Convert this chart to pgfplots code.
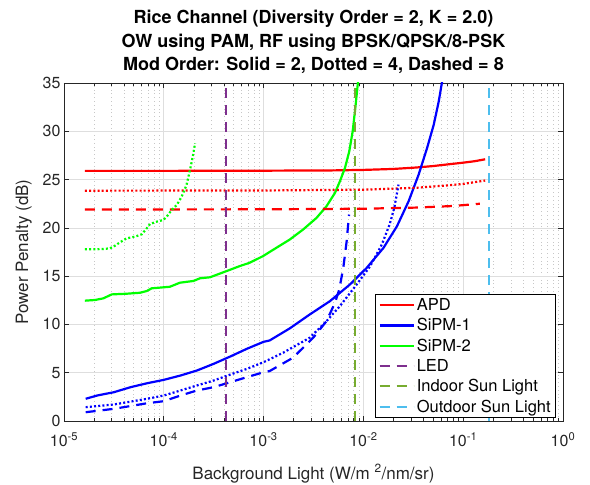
\documentclass[border=0pt]{standalone}
\usepackage{fontspec}
\setmainfont{TeX Gyre Heros}
\usepackage{pgfplots}
\pgfplotsset{compat=1.18}
\definecolor{ledc}{rgb}{0.494,0.184,0.556}
\definecolor{indc}{rgb}{0.466,0.674,0.188}
\definecolor{outc}{rgb}{0.301,0.745,0.933}
\definecolor{axc}{rgb}{0.15,0.15,0.15}
\newcommand\tickfont{\fontsize{16bp}{19bp}\selectfont}
\begin{document}
\begin{tikzpicture}
\path[use as bounding box] (-64bp,-64bp) rectangle (526bp,421bp);
\begin{axis}[
  scale only axis, width=499bp, height=338bp,
  at={(0,0)}, anchor=south west,
  xmode=log, xmin=1e-5, xmax=1, ymin=0, ymax=35,
  xtick={1e-5,1e-4,1e-3,1e-2,1e-1,1},
  xticklabels={10\textsuperscript{-5},10\textsuperscript{-4},10\textsuperscript{-3},10\textsuperscript{-2},10\textsuperscript{-1},10\textsuperscript{0}},
  minor xtick={2e-5,3e-5,4e-5,5e-5,6e-5,7e-5,8e-5,9e-5,2e-4,3e-4,4e-4,5e-4,6e-4,7e-4,8e-4,9e-4,2e-3,3e-3,4e-3,5e-3,6e-3,7e-3,8e-3,9e-3,2e-2,3e-2,4e-2,5e-2,6e-2,7e-2,8e-2,9e-2,2e-1,3e-1,4e-1,5e-1,6e-1,7e-1,8e-1,9e-1},
  ytick={0,5,10,15,20,25,30,35},
  yticklabel style={/pgf/number format/assume math mode=true},
  xticklabel style={yshift=-8bp},
  tick label style={font=\tickfont, text=axc},
  xmajorgrids=true, xminorgrids=true, ymajorgrids=true,
  major grid style={color=black!13, line width=0.6bp},
  minor grid style={color=black!22, line width=0.6bp, dash pattern=on 0.8bp off 3bp},
  axis line style={color=axc, line width=0.6bp},
  every tick/.style={color=axc, line width=0.6bp},
  major tick length=5bp, minor tick length=3bp,
  xlabel={Background Light (W/m\ \textsuperscript{2}/nm/sr)},
  ylabel={Power Penalty (dB)},
  xlabel style={font=\fontsize{17bp}{20bp}\selectfont, text=axc, at={(axis description cs:0.5,0)}, anchor=base, yshift=-58bp},
  ylabel style={font=\fontsize{17bp}{20bp}\selectfont, text=axc, at={(axis description cs:-0.072,0.5)}, anchor=base},
  title={Rice Channel (Diversity Order = 2, K = 2.0)\\OW using PAM, RF using BPSK/QPSK/8-PSK\\Mod Order: Solid = 2, Dotted = 4, Dashed = 8},
  title style={font=\bfseries\fontsize{18bp}{23.5bp}\selectfont, align=center, at={(axis description cs:0.5,1)}, anchor=south, yshift=3bp, inner sep=0pt},
  legend style={at={(0.986,0.009)}, anchor=south east, font=\fontsize{16.5bp}{19bp}\selectfont, draw=black, line width=0.6bp, inner xsep=3bp, inner ysep=2bp, row sep=2.6bp, cells={anchor=west}},
  legend image code/.code={\draw[#1, line width=2.2bp] (0bp,0bp) -- (34bp,0bp);},
  every axis plot/.append style={line width=2.2bp},
]
% APD solid
\addplot[red, solid] coordinates {(1.62e-5,25.9) (1e-4,25.9) (1e-3,25.92) (5e-3,25.95) (1e-2,26.0) (2e-2,26.1) (3.4e-2,26.25) (5e-2,26.4) (7.4e-2,26.6) (0.1,26.75) (0.13,26.9) (0.166,27.1)};
\addlegendentry{APD}
% SiPM-1 solid
\addplot[blue, solid] coordinates {(1.65e-5,2.30) (2.15e-5,2.64) (3.16e-5,2.98) (4.64e-5,3.50) (6.81e-5,3.91) (1e-4,4.26) (1.47e-4,4.71) (2.15e-4,5.23) (3.16e-4,5.92) (4.64e-4,6.68) (6.81e-4,7.48) (1e-3,8.2) (1.15e-3,8.34) (1.83e-3,9.59) (2.9e-3,11.03) (4.62e-3,12.41) (7.34e-3,14.14) (1.08e-2,15.86) (1.59e-2,17.93) (2.17e-2,20.17) (2.84e-2,22.76) (3.58e-2,25.52) (4.35e-2,28.28) (5.07e-2,30.69) (5.69e-2,33.1) (6.15e-2,35.17)};
\addlegendentry{SiPM-1}
% SiPM-2 solid
\addplot[green, solid] coordinates {(1.62e-5,12.46) (2.05e-5,12.53) (2.48e-5,12.7) (3.01e-5,13.11) (4.25e-5,13.18) (5.78e-5,13.28) (6.75e-5,13.46) (7.57e-5,13.74) (1.15e-4,13.9) (1.45e-4,14.32) (1.98e-4,14.5) (2.31e-4,14.78) (2.9e-4,14.88) (4.27e-4,15.53) (5.8e-4,16.05) (7.23e-4,16.38) (9.85e-4,17.07) (1.34e-3,17.93) (1.83e-3,18.79) (2.49e-3,19.83) (3.39e-3,21.03) (4.27e-3,22.24) (5.19e-3,23.62) (5.82e-3,24.83) (6.54e-3,26.21) (7.22e-3,27.93) (7.81e-3,30.0) (8.3e-3,32.41) (8.7e-3,34.48) (8.9e-3,35.5)};
\addlegendentry{SiPM-2}
% APD dotted / dashed
\addplot[red, dash pattern=on 2bp off 2.2bp, forget plot] coordinates {(1.62e-5,23.85) (1e-3,23.87) (1e-2,23.95) (3.4e-2,24.15) (7e-2,24.4) (0.1,24.55) (0.166,24.9)};
\addplot[red, dash pattern=on 10bp off 7bp, forget plot] coordinates {(1.62e-5,21.9) (1e-3,21.92) (1e-2,21.98) (3.4e-2,22.1) (7.4e-2,22.25) (0.1,22.35) (0.147,22.5)};
% SiPM-1 dotted / dashed
\addplot[blue, dash pattern=on 2bp off 2.2bp, forget plot] coordinates {(1.65e-5,1.43) (3.16e-5,1.71) (6.81e-5,2.30) (1e-4,2.64) (1.47e-4,3.16) (2.15e-4,3.68) (3.16e-4,4.19) (4.64e-4,4.81) (6.81e-4,5.40) (1e-3,6.09) (1.57e-3,7.07) (2.9e-3,8.62) (4.27e-3,10.34) (5.82e-3,11.9) (8.57e-3,14.14) (1.17e-2,16.03) (1.53e-2,18.28) (1.83e-2,20.34) (2.04e-2,22.07) (2.25e-2,24.48)};
\addplot[blue, dash pattern=on 10bp off 7bp, forget plot] coordinates {(1.65e-5,0.91) (3.16e-5,1.26) (6.81e-5,1.84) (1e-4,2.05) (1.47e-4,2.64) (2.15e-4,3.16) (3.16e-4,3.50) (4.64e-4,4.02) (6.81e-4,4.54) (1e-3,5.05) (1.15e-3,5.17) (1.97e-3,6.55) (3.14e-3,8.62) (4.27e-3,10.34) (5.19e-3,12.24) (5.73e-3,13.62) (6.29e-3,15.86) (6.8e-3,18.62) (7.18e-3,21.38)};
% SiPM-2 dotted
\addplot[green, dash pattern=on 2bp off 2.2bp, forget plot] coordinates {(1.62e-5,17.78) (1.97e-5,17.78) (2.48e-5,17.81) (2.89e-5,17.88) (3.24e-5,18.15) (3.64e-5,18.5) (4.25e-5,18.92) (5.14e-5,19.09) (6.01e-5,19.33) (6.75e-5,19.95) (7.28e-5,20.4) (8.49e-5,20.64) (9.89e-5,20.81) (1.07e-4,21.16) (1.2e-4,21.85) (1.35e-4,22.37) (1.51e-4,23.23) (1.69e-4,24.44) (1.83e-4,25.99) (1.95e-4,27.37) (2.06e-4,28.76)};
% vertical lines
\addplot[ledc, dash pattern=on 10bp off 7bp] coordinates {(4.2e-4,0) (4.2e-4,35)};
\addlegendentry{LED}
\addplot[indc, dash pattern=on 10bp off 7bp] coordinates {(8.3e-3,0) (8.3e-3,35)};
\addlegendentry{Indoor Sun Light}
\addplot[outc, dash pattern=on 10bp off 7bp] coordinates {(0.18,0) (0.18,35)};
\addlegendentry{Outdoor Sun Light}
\end{axis}
\end{tikzpicture}
\end{document}
